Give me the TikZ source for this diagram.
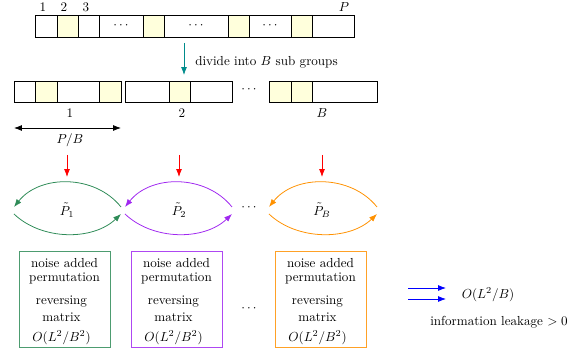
\documentclass[tikz,border=0pt]{standalone}
\usetikzlibrary{arrows.meta}
\definecolor{cyell}{RGB}{255,255,220}
\definecolor{cteal}{RGB}{0,139,139}
\definecolor{cgreen}{RGB}{46,139,87}
\definecolor{cpurp}{RGB}{160,40,240}
\definecolor{corange}{RGB}{255,145,0}
\begin{document}
\begin{tikzpicture}[x=0.764pt,y=-0.764pt,
  cellbox/.style={draw,semithick},
  lbl/.style={inner sep=0pt},
  arr/.style={semithick,-{Latex[length=6pt,width=4.5pt]}},
  infobox/.style={draw,semithick,inner sep=0pt}]
\useasboundingbox (0,0) rectangle (587,351);
% top bar
\foreach \a/\b/\f in {35/57/white,57/78/cyell,78/99/white,99/143/white,143/164/cyell,164/228/white,228/249/cyell,249/291/white,291/312/cyell,312/354/white}
  \draw[cellbox,fill=\f] (\a,15) rectangle (\b,37);
\node[lbl] (d1) at (121,26) {$\cdots$};
\node[lbl] (d2) at (196,26) {$\cdots$};
\node[lbl] (d3) at (270,26) {$\cdots$};
\node[lbl] (n1) at (43,7) {1};
\node[lbl] (n2) at (64,7) {2};
\node[lbl] (n3) at (86,7) {3};
\node[lbl] (nP) at (344,7) {$P$};
% divide arrow
\coordinate (t1) at (184,43);
\coordinate (t2) at (184,75);
\draw[arr,cteal] (t1) -- (t2);
\node[lbl,anchor=west] (div) at (195,62) {divide into $B$ sub groups};
% second row
\foreach \a/\b/\f in {14/35/white,35/57/cyell,57/99/white,99/121/cyell,125/169/white,169/190/cyell,190/232/white,269/291/cyell,291/312/cyell,312/377/white}
  \draw[cellbox,fill=\f] (\a,81) rectangle (\b,102);
\node[lbl] (dg) at (249,90) {$\cdots$};
\node[lbl] (g1) at (70,113) {1};
\node[lbl] (g2) at (182,113) {2};
\node[lbl] (gB) at (322,113) {$B$};
% P/B arrow
\coordinate (pb1) at (14,128);
\coordinate (pb2) at (121,128);
\draw[semithick,{Latex[length=6pt,width=4.5pt]}-{Latex[length=6pt,width=4.5pt]}] (pb1) -- (pb2);
\node[lbl] (pb) at (70,140) {$P/B$};
% red arrows
\foreach \x/\n in {67/a,179/b,322/c}{
  \coordinate (r\n1) at (\x,155);
  \coordinate (r\n2) at (\x,177);
  \draw[arr,red] (r\n1) -- (r\n2);
}
% arcs
\foreach \l/\r/\c/\n in {14/121/cgreen/a,125/232/cpurp/b,269/377/corange/c}{
  \coordinate (ul\n) at (\l,207);
  \coordinate (ur\n) at (\r,207);
  \coordinate (ll\n) at (\l,214);
  \coordinate (lr\n) at (\r,214);
  \draw[arr,\c] (ur\n) .. controls +(-26,-32.7) and +(26,-32.7) .. (ul\n);
  \draw[arr,\c] (ll\n) .. controls +(28,26.7) and +(-28,26.7) .. (lr\n);
}
\node[lbl] (p1) at (67,210) {$\tilde{P}_1$};
\node[lbl] (p2) at (179,210) {$\tilde{P}_2$};
\node[lbl] (pB) at (322,210) {$\tilde{P}_B$};
\node[lbl] (da) at (249,208) {$\cdots$};
% boxes
\foreach \l/\r/\c/\n in {19/110/cgreen/a,131/222/cpurp/b,275/366/corange/c}{
  \draw[semithick,\c!85!white] (\l,251) rectangle (\r,347);
  \node[lbl] (ba\n) at ({(\l+\r)/2},263) {noise added};
  \node[lbl] (bb\n) at ({(\l+\r)/2},278) {permutation};
  \node[lbl] (bc\n) at ({(\l+\r)/2-3},302) {reversing};
  \node[lbl] (bd\n) at ({(\l+\r)/2-3},317) {matrix};
  \node[lbl] (be\n) at ({(\l+\r)/2-3},338) {$O(L^2/B^2)$};
}
\node[lbl] (db) at (249,309) {$\cdots$};
% legend
\coordinate (bl1) at (408,288);
\coordinate (bl2) at (446,288);
\coordinate (bl3) at (408,299);
\coordinate (bl4) at (446,299);
\draw[arr,blue] (bl1) -- (bl2);
\draw[arr,blue] (bl3) -- (bl4);
\node[lbl] (ol) at (488,295) {$O(L^2/B)$};
\node[lbl] (il) at (499,322) {information leakage $>0$};
\end{tikzpicture}
\end{document}
